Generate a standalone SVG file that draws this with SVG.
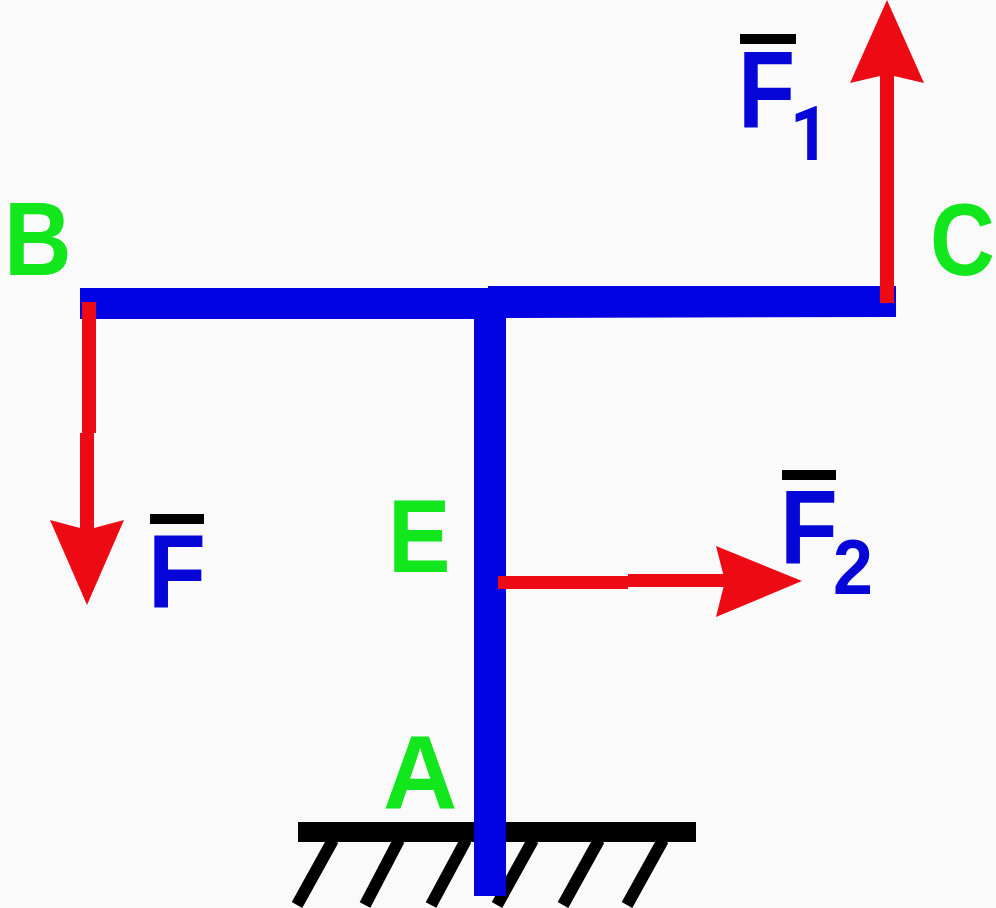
<svg xmlns="http://www.w3.org/2000/svg" width="996" height="908" viewBox="0 0 996 908">
<style>
text{font-family:"Liberation Sans",Arial,sans-serif;font-weight:700}
.g{fill:#12e61c}
.b{fill:#0606d8}
.r{fill:#ee0a14}
.h{stroke:#000;stroke-width:12;fill:none}
.bar{fill:#0202e2}
</style>
<rect width="996" height="908" fill="#fafafa"/>
<g id="ground">
<rect x="298" y="822" width="398" height="20"/>
<path class="h" d="M333 840L297 905M399 840L365 905M466 840L431 905M533 840L497 905M599 840L563 905M663 840L627 905"/>
</g>
<g id="frame">
<path class="bar" d="M80 288L488 288L488 286L896 286L896 317L506 318L506 896L474 896L474 319L80 319Z"/>
</g>
<g id="connectors">
<path class="r" d="M880 70H894V303H880Z"/>
<polygon class="r" points="887,0 924,83 894,76 880,76 850,83"/>
<path class="r" d="M82 302H96V433H94V535H80V433H82Z"/>
<polygon class="r" points="87,605 50,520 80,528 94,528 124,520"/>
<path class="r" d="M498 576H628V574H735V587H628V589H498Z"/>
<polygon class="r" points="802,581 716,546 725,581 716,617"/>
</g>
<g id="label-B"><text class="g" transform="translate(4 275) scale(.9 1)" font-size="104">B</text></g>
<g id="label-C"><text class="g" transform="translate(930 275) scale(.88 1)" font-size="102">C</text></g>
<g id="label-E"><text class="g" transform="translate(388 572) scale(.9 1)" font-size="104">E</text></g>
<g id="label-A"><text class="g" transform="translate(383 808) scale(.99 1)" font-size="104">A</text></g>
<g id="label-F1">
<rect x="740" y="34" width="56" height="10"/>
<text class="b" transform="translate(738 128) scale(.85 1)" font-size="110">F</text>
<text class="b" transform="translate(790 160) scale(.9 1)" font-size="76" style="font-family:Roboto,sans-serif">1</text>
</g>
<g id="label-F">
<rect x="150" y="514" width="54" height="10"/>
<text class="b" transform="translate(148 607) scale(.92 1)" font-size="103">F</text>
</g>
<g id="label-F2">
<rect x="782" y="470" width="54" height="10"/>
<text class="b" transform="translate(780 564) scale(.9 1)" font-size="105">F</text>
<text class="b" transform="translate(833 594) scale(.92 1)" font-size="78">2</text>
</g>
</svg>
